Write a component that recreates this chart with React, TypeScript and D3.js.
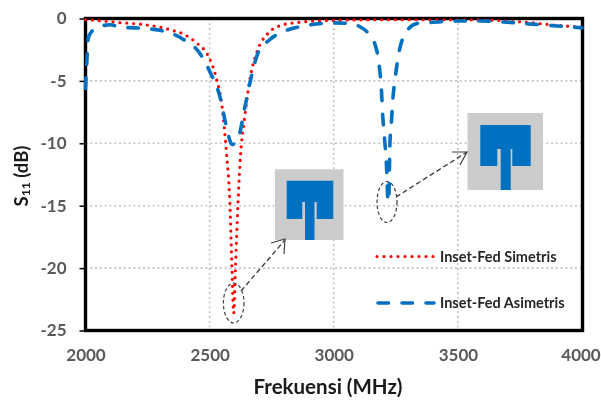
import React, { useRef, useEffect } from "react";
import * as d3 from "d3";

const xTicks = [2000, 2500, 3000, 3500, 4000];
const yTicks = [0, -5, -10, -15, -20, -25];

// [MHz, dB]
const simetris: [number, number][] = [
  [2000, -0.1], [2070, -0.2], [2138, -0.33], [2220, -0.45], [2300, -0.7], [2350, -0.95], [2400, -1.3],
  [2450, -2], [2489, -2.8], [2510, -3.7], [2528, -4.85], [2549, -6.9], [2568, -10.8], [2581, -14.5],
  [2590, -20], [2597, -23.6], [2604, -20], [2615, -14.5], [2625, -10.8], [2640, -8.1], [2662, -4.9],
  [2690, -2.7], [2730, -1.3], [2796, -0.5], [2863, -0.3], [3000, -0.15], [3200, -0.1], [3400, -0.1],
  [3600, -0.12], [3700, -0.2], [3800, -0.35], [3900, -0.55], [4000, -0.7],
];
const asimetris: [number, number][] = [
  [2000, -5.6], [2005, -3.6], [2012, -1.5], [2040, -0.8], [2100, -0.5], [2140, -0.7], [2200, -0.75],
  [2300, -0.95], [2388, -1.6], [2461, -2.8], [2502, -4.3], [2542, -6.3], [2568, -8.7], [2590, -10.1],
  [2615, -9.6], [2642, -7.1], [2670, -4.5], [2694, -2.8], [2742, -1.7], [2810, -0.95], [2880, -0.6],
  [3000, -0.35], [3060, -0.4], [3105, -0.65], [3140, -1.2], [3165, -2], [3185, -4.1], [3192, -5.7],
  [3197, -7.7], [3205, -9.7], [3212, -11.6], [3219, -14.7], [3222, -14.3], [3226, -10.2], [3232, -8.4],
  [3238, -6.5], [3248, -4.7], [3262, -2.8], [3292, -1.1], [3335, -0.4], [3400, -0.3], [3500, -0.2],
  [3600, -0.2], [3700, -0.3], [3800, -0.45], [3900, -0.6], [4000, -0.75],
];

const legendSim = "Inset-Fed Simetris";
const legendAsim = "Inset-Fed Asimetris";
const xTitle = "Frekuensi (MHz)";

const font = "Lato, 'Open Sans', sans-serif";
const RED = "#FF0000";
const BLUE = "#0070C0";

const App = () => {
  const ref = useRef<SVGSVGElement>(null);

  useEffect(() => {
    const svg = d3.select(ref.current);
    svg.selectAll("*").remove();

    const x = d3.scaleLinear().domain([2000, 4000]).range([85.5, 582]);
    const y = d3.scaleLinear().domain([0, -25]).range([18.5, 330.5]);

    // grid
    const grid = svg.append("g").attr("stroke", "#BFBFBF").attr("stroke-width", 1.6).attr("stroke-dasharray", "1.8 3");
    grid.selectAll("line.v").data(xTicks.slice(1, -1)).enter().append("line")
      .attr("x1", d => x(d)).attr("x2", d => x(d)).attr("y1", 18.5).attr("y2", 330.5);
    grid.selectAll("line.h").data(yTicks.slice(1, -1)).enter().append("line")
      .attr("x1", 85.5).attr("x2", 582).attr("y1", d => y(d)).attr("y2", d => y(d));

    // axes, plain hyphen in the labels like the original
    const axisY = d3.axisLeft(y).tickValues(yTicks).tickSize(6).tickPadding(13).tickFormat(d => String(d));
    const gy = svg.append("g").attr("transform", "translate(85.5,0)").call(axisY);
    const axisX = d3.axisBottom(x).tickValues(xTicks).tickSize(0).tickPadding(18).tickFormat(d => String(d));
    const gx = svg.append("g").attr("transform", "translate(0,330.5)").call(axisX);
    [gx, gy].forEach(g => {
      g.select(".domain").remove();
      g.selectAll("line").attr("stroke", "#000").attr("stroke-width", 1.5);
      g.selectAll("text").attr("fill", "#595959").attr("font-family", font).attr("font-weight", 700).attr("font-size", 17);
    });
    // keep the last label inside the picture
    gx.selectAll("text").filter(d => d === 4000).attr("dx", -1.5);

    // frame
    svg.append("rect").attr("x", 85.5).attr("y", 18.5).attr("width", 497).attr("height", 312)
      .attr("fill", "none").attr("stroke", "#000").attr("stroke-width", 3.4);

    // inset pictures
    const patch = (g: any, box: number[], body: number[], feed: number[], slotTop: number) => {
      g.append("rect").attr("x", box[0]).attr("y", box[1]).attr("width", box[2] - box[0]).attr("height", box[3] - box[1]).attr("fill", "#CDCCCC");
      const [l, top, r, bottom] = body;
      const [sl, fl, fr, sr] = feed;
      const pts = [[l, top], [r, top], [r, bottom], [sr, bottom], [sr, slotTop], [fr, slotTop],
        [fr, box[3]], [fl, box[3]], [fl, slotTop], [sl, slotTop], [sl, bottom], [l, bottom]];
      g.append("path").attr("d", d3.line()(pts as any) + "Z").attr("fill", BLUE);
    };
    const insets = svg.append("g");
    patch(insets, [275, 169.3, 343.5, 240], [286.7, 180.7, 333.3, 219], [302.3, 305, 314.5, 316.7], 202);
    patch(insets, [467.5, 113, 543, 190], [480.3, 125, 530.7, 166], [497.3, 500.7, 510.7, 512.3], 149);

    // curves
    const line = d3.line<[number, number]>().x(d => x(d[0])).y(d => y(d[1])).curve(d3.curveMonotoneX);
    svg.append("path").datum(simetris).attr("d", line).attr("fill", "none")
      .attr("stroke", RED).attr("stroke-width", 3.2).attr("stroke-linecap", "round").attr("stroke-dasharray", "0 6.9");
    svg.append("path").datum(asimetris).attr("d", line).attr("fill", "none")
      .attr("stroke", BLUE).attr("stroke-width", 3.6).attr("stroke-linecap", "round").attr("stroke-dasharray", "10.5 13.5");

    // legend
    const legend = svg.append("g");
    legend.append("line").attr("x1", 377).attr("x2", 434).attr("y1", 256.5).attr("y2", 256.5)
      .attr("stroke", RED).attr("stroke-width", 3.2).attr("stroke-linecap", "round").attr("stroke-dasharray", "0 7");
    legend.append("line").attr("x1", 378).attr("x2", 434).attr("y1", 303).attr("y2", 303)
      .attr("stroke", BLUE).attr("stroke-width", 3.6).attr("stroke-linecap", "round").attr("stroke-dasharray", "10.5 13.5");
    legend.selectAll("text").data([[legendSim, 261.5], [legendAsim, 308]]).enter().append("text")
      .attr("x", 440).attr("y", d => d[1] as number).text(d => d[0] as string)
      .attr("font-family", font).attr("font-weight", 700).attr("font-size", 14.5).attr("fill", "#262626");

    // annotations
    const ann = svg.append("g").attr("fill", "none").attr("stroke", "#404040").attr("stroke-width", 1.2);
    ann.append("ellipse").attr("cx", 233.7).attr("cy", 303).attr("rx", 10.3).attr("ry", 20).attr("stroke-dasharray", "3.5 2.5");
    ann.append("ellipse").attr("cx", 387).attr("cy", 202).attr("rx", 10).attr("ry", 20.5).attr("stroke-dasharray", "3.5 2.5");
    ann.append("line").attr("x1", 241).attr("y1", 291).attr("x2", 285).attr("y2", 240).attr("stroke-dasharray", "5 3").attr("stroke-width", 1.4);
    ann.append("line").attr("x1", 396).attr("y1", 197).attr("x2", 467).attr("y2", 152).attr("stroke-dasharray", "5 3").attr("stroke-width", 1.4);
    ann.append("path").attr("d", "M271,243L285,239L284,254");
    ann.append("path").attr("d", "M452,152L467,152L460,165");

    // titles
    svg.append("text").attr("x", 328).attr("y", 394).attr("text-anchor", "middle").text(xTitle)
      .attr("font-family", font).attr("font-weight", 700).attr("font-size", 20.5).attr("fill", "#1a1a1a");
    const yt = svg.append("text").attr("transform", "translate(28,176) rotate(-90)").attr("text-anchor", "middle")
      .attr("font-family", font).attr("font-weight", 700).attr("font-size", 18.5).attr("fill", "#1a1a1a");
    yt.append("tspan").text("S");
    yt.append("tspan").attr("font-size", 12).attr("dy", 2).text("11");
    yt.append("tspan").attr("dy", -2).text(" (dB)");
  }, []);

  return (
    <svg ref={ref} width={601} height={400} style={{ position: "absolute", left: 0, top: 0, background: "#fff", filter: "blur(0.35px)" }} />
  );
};

export default App;
